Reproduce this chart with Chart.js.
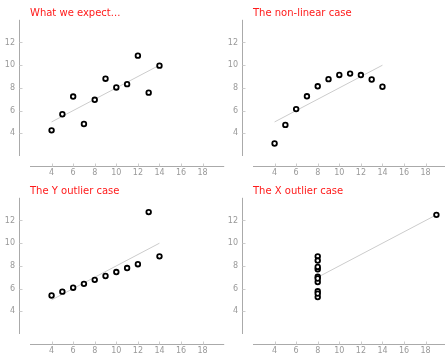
<!DOCTYPE html>
<html lang="en">

<head>
  <title>Anscombe</title>
  <style>
    body { margin: 0; background: #fff; }
    #wrap { position: relative; width: 445px; height: 353px; overflow: hidden; }
    #wrap canvas { position: absolute; }
  </style>
</head>

<body>
  <div id="wrap">
    <canvas id="c1" width="230" height="178" style="left:0;top:0"></canvas>
    <canvas id="c2" width="230" height="178" style="left:223px;top:0"></canvas>
    <canvas id="c3" width="230" height="178" style="left:0;top:178px"></canvas>
    <canvas id="c4" width="230" height="178" style="left:223px;top:178px"></canvas>
  </div>
  <script src="https://cdn.jsdelivr.net/npm/chart.js@4/dist/chart.umd.min.js"></script>
  <script>
    var titles = ['What we expect...', 'The non-linear case', 'The Y outlier case', 'The X outlier case'];
    var xs123 = [10, 8, 13, 9, 11, 14, 6, 4, 12, 7, 5];
    var x4 = [8, 8, 8, 8, 8, 8, 8, 19, 8, 8, 8];
    var y1 = [8.04, 6.95, 7.58, 8.81, 8.33, 9.96, 7.24, 4.26, 10.84, 4.82, 5.68];
    var y2 = [9.14, 8.14, 8.74, 8.77, 9.26, 8.10, 6.13, 3.10, 9.13, 7.26, 4.74];
    var y3 = [7.46, 6.77, 12.74, 7.11, 7.81, 8.84, 6.08, 5.39, 8.15, 6.42, 5.73];
    var y4 = [6.58, 5.76, 7.71, 8.84, 8.47, 7.04, 5.25, 12.50, 5.56, 7.91, 6.89];
    // fitted line ends, one pair per panel
    var fitX = [[4, 14], [4, 14], [4, 14], [8, 19]];
    var fitY = [[5, 10], [5, 10], [5, 10], [7, 12.5]];
    var xTicks = [4, 6, 8, 10, 12, 14, 16, 18];
    var yTicks = [4, 6, 8, 10, 12];

    var panelX = [xs123, xs123, xs123, x4];
    var panelY = [y1, y2, y3, y4];

    // axis lines sit a bit away from the plot area
    var axisLines = {
      id: 'axisLines',
      afterDraw: function (chart) {
        var ctx = chart.ctx, a = chart.chartArea;
        var sx = chart.scales.x, sy = chart.scales.y;
        var ax = a.left - 10.5, ay = Math.round(a.bottom) + 10.5;
        ctx.save();
        ctx.lineWidth = 1;
        ctx.strokeStyle = '#aaa';
        ctx.beginPath();
        ctx.moveTo(ax, a.top);
        ctx.lineTo(ax, a.bottom);
        ctx.moveTo(a.left, ay);
        ctx.lineTo(a.right, ay);
        ctx.stroke();
        ctx.strokeStyle = '#ccc';
        ctx.beginPath();
        sy.ticks.forEach(function (t) {
          var p = Math.round(sy.getPixelForValue(t.value)) + 0.5;
          ctx.moveTo(ax, p);
          ctx.lineTo(ax + 3, p);
        });
        sx.ticks.forEach(function (t) {
          var p = Math.round(sx.getPixelForValue(t.value)) + 0.5;
          ctx.moveTo(p, ay);
          ctx.lineTo(p, ay - 3);
        });
        ctx.stroke();
        ctx.restore();
      }
    };

    function makeChart(i) {
      var pts = panelX[i].map(function (x, k) { return { x: x, y: panelY[i][k] }; });
      var fit = fitX[i].map(function (x, k) { return { x: x, y: fitY[i][k] }; });
      new Chart(document.getElementById('c' + (i + 1)), {
        type: 'scatter',
        data: {
          datasets: [{
            data: pts,
            pointRadius: 2.3,
            borderWidth: 1.8,
            borderColor: '#000',
            backgroundColor: '#fff'
          }, {
            data: fit,
            showLine: true,
            borderColor: '#ccc',
            borderWidth: 1,
            pointRadius: 0
          }]
        },
        options: {
          responsive: false,
          animation: false,
          events: [],
          layout: { padding: { left: 0, right: 5, top: 0, bottom: 0 } },
          plugins: {
            legend: { display: false },
            tooltip: { enabled: false },
            title: {
              display: true,
              text: titles[i],
              align: 'start',
              fullSize: false,
              color: '#ff1a1a',
              font: { family: 'DejaVu Sans', size: 10, weight: 'normal', lineHeight: 1.3 },
              padding: { top: 5, bottom: 0 }
            }
          },
          scales: {
            x: {
              type: 'linear', min: 2, max: 20,
              grid: { display: false, drawTicks: false },
              border: { display: false },
              afterBuildTicks: function (s) { s.ticks = xTicks.map(function (v) { return { value: v }; }); },
              afterFit: function (s) { s.height = 22; },
              ticks: { color: '#999', padding: 12, maxRotation: 0, font: { family: 'DejaVu Sans', size: 8 } }
            },
            y: {
              type: 'linear', min: 2, max: 14,
              grid: { display: false, drawTicks: false },
              border: { display: false },
              afterBuildTicks: function (s) { s.ticks = yTicks.map(function (v) { return { value: v }; }); },
              afterFit: function (s) { s.width = 30; },
              ticks: { color: '#999', padding: 15, font: { family: 'DejaVu Sans', size: 8 } }
            }
          }
        },
        plugins: [axisLines]
      });
    }

    for (var i = 0; i < 4; i++) makeChart(i);
  </script>
</body>

</html>
